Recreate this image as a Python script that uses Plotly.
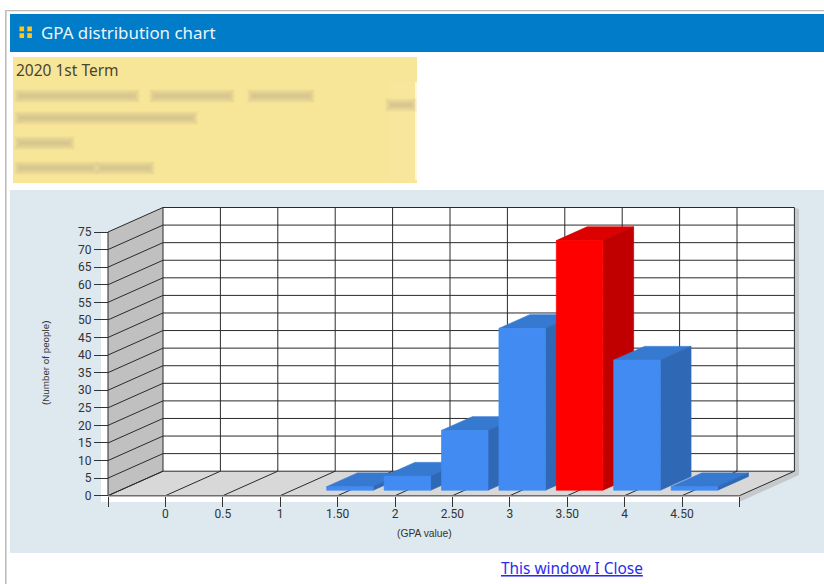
import plotly.graph_objects as go

# ---- data ----
gpa_labels = ["0", "0.5", "1", "1.50", "2", "2.50", "3", "3.50", "4", "4.50"]
people = [0, 0, 0, 1, 4, 17, 46, 71, 37, 1]
highlight = "3.50"
y_ticks = list(range(0, 80, 5))

W, H = 824, 584
# scale: pixels per category / per person, and where the front origin sits
UX, UY = 57.4, 3.516
X0, Y0 = 165.4, 495.7
DEPTH_PX = (55.0, 24.5)
ddx, ddy = DEPTH_PX[0] / UX, DEPTH_PX[1] / UY
x_min, x_max = -1.0, 10.0
y_max = 75


def proj(x, y, d=0.0):
    return x + d * ddx, y + d * ddy


fig = go.Figure()


def poly(points, fill, line=None, width=0.7):
    xs, ys = zip(*points)
    fig.add_trace(go.Scatter(
        x=list(xs) + [xs[0]], y=list(ys) + [ys[0]], mode="lines", fill="toself",
        fillcolor=fill, line=dict(color=line or fill, width=width),
        hoverinfo="skip", showlegend=False))


def lines(segments, color="#2a2a2a", width=1):
    xs, ys = [], []
    for a, b in segments:
        xs += [a[0], b[0], None]
        ys += [a[1], b[1], None]
    fig.add_trace(go.Scatter(x=xs, y=ys, mode="lines", line=dict(color=color, width=width),
                             hoverinfo="skip", showlegend=False))


# ---- page furniture, in pixels ----
def px(x):
    return x / W


def py(y):
    return 1 - y / H


shapes = []


def rect(x0, y0, x1, y1, color, opacity=1.0):
    shapes.append(dict(type="rect", xref="paper", yref="paper", x0=px(x0), x1=px(x1),
                       y0=py(y1), y1=py(y0), fillcolor=color, opacity=opacity,
                       line=dict(width=0), layer="below"))


rect(5, 10, 824, 11.2, "#b9b9b9")
rect(5, 10, 6.6, 584, "#bdbdbd")
rect(10, 14, 824, 52, "#007cc8")
for ix, iy in [(19.5, 26.5), (27.3, 26.5), (19.5, 33.2), (27.3, 33.2)]:
    rect(ix, iy, ix + 4.6, iy + 4.8, "#ffc71c")
rect(13, 57, 417, 183, "#f7e598")
rect(415, 82, 417, 180, "#fdf7dc")
rect(388, 82, 415, 180, "#fae79f", 0.7)
for x0, x1, yc in [(17, 137, 96), (152, 232, 96), (250, 312, 96), (17, 195, 118),
                   (17, 72, 143), (17, 95, 168), (98, 152, 168), (388, 414, 105)]:
    for grow, op in [(3, 0.12), (2, 0.14), (1, 0.16), (0, 0.18), (-1, 0.2), (-2, 0.22), (-3, 0.25)]:
        rect(x0 - grow, yc - 4 - grow, x1 + grow, yc + 4 + grow, "#cfbf8c", op)
rect(10, 190, 824, 553, "#dee8ef")
rect(101, 232, 108, 502, "#ffffff")
rect(108, 496, 739.5, 502, "#ffffff")
shapes.append(dict(type="path", xref="paper", yref="paper", layer="below", line=dict(width=0),
                   fillcolor="#c6c9cb",
                   path=f"M{px(739.3)},{py(496)} L{px(795)},{py(471)} L{px(795)},{py(208)} "
                        f"L{px(799)},{py(209)} L{px(799)},{py(475)} L{px(739.3)},{py(502)} Z"))

# ---- 3D chart frame ----
e0, e1 = x_min, x_max
poly([proj(e0, 0, 1), proj(e1, 0, 1), proj(e1, y_max, 1), proj(e0, y_max, 1)], "#ffffff", width=0)
poly([proj(e0, 0), proj(e0, 0, 1), proj(e0, y_max, 1), proj(e0, y_max)], "#c0c0c0", width=0)
poly([proj(e0, 0), proj(e1, 0), proj(e1, 0, 1), proj(e0, 0, 1)], "#d8d8d8", width=0)

edges = [x_min + k for k in range(int(x_max - x_min) + 1)]
seg = []
for v in y_ticks:
    seg.append((proj(e0, v), proj(e0, v, 1)))
    seg.append((proj(e0, v, 1), proj(e1, v, 1)))
for x in edges:
    seg.append((proj(x, 0), proj(x, 0, 1)))
    seg.append((proj(x, 0, 1), proj(x, y_max, 1)))
seg.append((proj(e0, 0), proj(e0, y_max)))
lines(seg)
lines([(proj(e0, 0), proj(e1, 0))], "#6e6e6e", 1.5)

# ---- bars ----
HALF, D_FRONT, D_BACK = 0.405, 0.225, 0.785
for i, (lab, v) in enumerate(zip(gpa_labels, people)):
    if v <= 0:
        continue
    hot = lab == highlight
    front, side, top = (("#ff0000", "#c00000", "#dc0000") if hot
                        else ("#418bf2", "#2f68b5", "#3579d1"))
    l, r = i - HALF, i + HALF
    poly([proj(l, v, D_FRONT), proj(r, v, D_FRONT), proj(r, v, D_BACK), proj(l, v, D_BACK)], top)
    poly([proj(r, 0, D_FRONT), proj(r, 0, D_BACK), proj(r, v, D_BACK), proj(r, v, D_FRONT)], side)
    poly([proj(l, 0, D_FRONT), proj(r, 0, D_FRONT), proj(r, v, D_FRONT), proj(l, v, D_FRONT)], front)

# ---- axes: real ticks, ranges stretched over the whole page ----
font_ticks = dict(family="Roboto, sans-serif", size=12, color="#333333")
fig.update_layout(
    width=W, height=H, margin=dict(l=0, r=0, t=0, b=0, pad=0),
    paper_bgcolor="#ffffff", plot_bgcolor="#ffffff", showlegend=False, hovermode=False,
    shapes=shapes,
    xaxis=dict(
        range=[(0 - X0) / UX, (W - X0) / UX], domain=[0, 1], anchor="free",
        position=1 - Y0 / H, showgrid=False, zeroline=False, showline=False, fixedrange=True,
        tickmode="array", tickvals=edges, ticktext=[""] + gpa_labels + [""],
        ticks="outside", ticklen=10, tickwidth=1, tickcolor="#333333", tickfont=font_ticks,
        ticklabelstandoff=-3),
    yaxis=dict(
        range=[(Y0 - H) / UY, Y0 / UY], domain=[0, 1], anchor="free",
        position=(X0 - UX) / W, showgrid=False, zeroline=False, showline=False, fixedrange=True,
        tickmode="array", tickvals=y_ticks, ticktext=[str(v) for v in y_ticks],
        ticks="outside", ticklen=14, tickwidth=1, tickcolor="#333333", tickfont=font_ticks,
        ticklabelstandoff=0),
)


def note(x, y, text, size, color, family="Noto Sans, sans-serif", anchor="left", angle=0):
    fig.add_annotation(xref="paper", yref="paper", x=px(x), y=py(y), text=text, showarrow=False,
                       xanchor=anchor, yanchor="middle", textangle=angle, borderpad=0, borderwidth=0,
                       font=dict(family=family, size=size, color=color))


note(41, 32, "GPA distribution chart", 16.9, "#eaf5fb")
note(16, 70, "2020 1st Term", 15.5, "#4a4530")
note(424, 533, "(GPA value)", 10.3, "#333333", "Liberation Sans, sans-serif", "center")
note(45, 363, "(Number of people)", 9.8, "#333333", "Liberation Sans, sans-serif", "center", -90)
note(501, 568, "<u>This window I Close</u>", 15.4, "#2b2bee")

fig.write_html("out.html", config=dict(displayModeBar=False),
               post_script="document.body.style.margin='0';document.documentElement.style.overflow='hidden';")
